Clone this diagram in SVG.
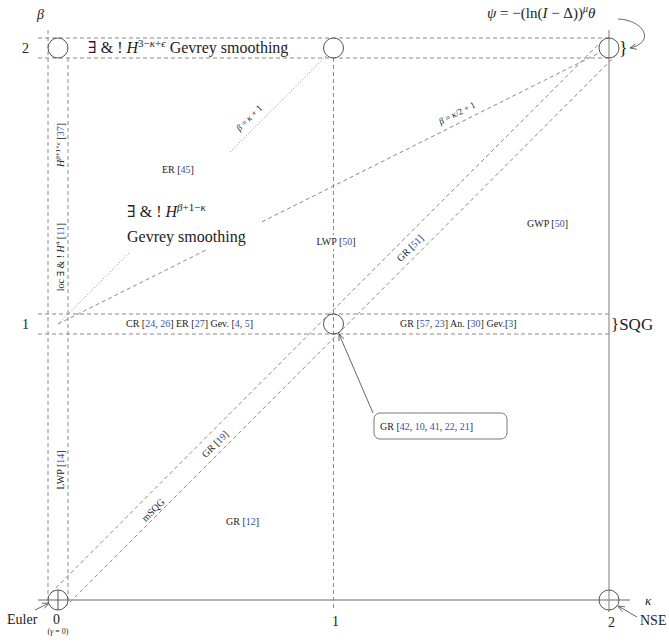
<svg xmlns="http://www.w3.org/2000/svg" width="669" height="643" viewBox="0 0 669 643">
<style>
.bg{fill:#fff}
.ln{fill:none;stroke:#8a8a8a;stroke-width:1}
.dash{stroke-dasharray:4 3}
.dot{stroke-dasharray:1 2.2}
.ax{fill:none;stroke:#9a9a9a;stroke-width:1.3}
.circ{fill:none;stroke:#555;stroke-width:1}
.arr{fill:none;stroke:#666;stroke-width:1}
text{font-family:"Liberation Serif","DejaVu Serif",serif;fill:#222}
.ex{font-family:"DejaVu Serif",serif}
.s{font-size:10px}
.m{font-size:14px}
.b{font-size:16px}
.c{fill:#3550b0}
.i{font-style:italic}
</style>
<defs>
<marker id="ah" viewBox="0 0 10 10" refX="9" refY="5" markerWidth="8" markerHeight="8" orient="auto" markerUnits="userSpaceOnUse">
<path d="M1,1.5 L9,5 L1,8.5" fill="none" stroke="#555" stroke-width="1"/>
</marker>
</defs>
<rect class="bg" x="0" y="0" width="669" height="643"/>

<g id="connectors">
<line class="ax" x1="38" y1="600" x2="630" y2="600"/>
<line class="ax" x1="609" y1="30" x2="609" y2="612"/>
<line class="ln dash" x1="48" y1="30" x2="48" y2="600"/>
<line class="ln dash" x1="68" y1="58" x2="68" y2="600"/>
<line class="ln dash" x1="333.5" y1="58" x2="333.5" y2="608"/>
<line class="ln dash" x1="38" y1="38" x2="609" y2="38"/>
<line class="ln dash" x1="38" y1="58" x2="609" y2="58"/>
<line class="ln dash" x1="38" y1="314" x2="609" y2="314"/>
<line class="ln dash" x1="38" y1="334" x2="609" y2="334"/>
<line class="ln dash" x1="50.9" y1="592.9" x2="601.9" y2="40.9"/>
<line class="ln dash" x1="65.1" y1="607.1" x2="616.1" y2="55.1"/>
<line class="ln dash" x1="58" y1="324" x2="207" y2="249.5"/>
<line class="ln dash" x1="262" y1="221.8" x2="600" y2="52.5"/>
<line class="ln dot" x1="58" y1="324" x2="130" y2="252"/>
<line class="ln dot" x1="230" y1="152" x2="327" y2="55"/>
<line class="arr" x1="373" y1="413" x2="339" y2="334" marker-end="url(#ah)"/>
<line class="arr" x1="35" y1="610" x2="49" y2="603" marker-end="url(#ah)"/>
<line class="arr" x1="637" y1="617" x2="618" y2="606" marker-end="url(#ah)"/>
<path class="arr" d="M618,19 C644,20 656,42 630,48" marker-end="url(#ah)"/>
</g>

<g id="n-top-left"><circle class="circ" cx="58" cy="48" r="10"/></g>
<g id="n-top-mid"><circle class="circ" cx="333.5" cy="48" r="10"/></g>
<g id="n-top-right"><circle class="circ" cx="609" cy="48" r="10"/></g>
<g id="n-sqg"><circle class="circ" cx="333.5" cy="324" r="10"/></g>
<g id="n-euler"><circle class="circ" cx="58" cy="600" r="10"/><line class="circ" x1="58" y1="590" x2="58" y2="610"/></g>
<g id="n-nse"><circle class="circ" cx="609" cy="600" r="10"/></g>

<g id="axis-labels">
<text class="m i" x="37" y="19">β</text>
<text class="m" x="22" y="53">2</text>
<text class="m" x="22" y="329">1</text>
<text class="m" x="53" y="624">0</text>
<text x="58" y="634" font-size="8" text-anchor="middle">(<tspan class="i">γ</tspan> = 0)</text>
<text class="m" x="335.5" y="626" text-anchor="middle">1</text>
<text class="m" x="611.5" y="627" text-anchor="middle">2</text>
<text class="i" x="645" y="605" font-size="13">κ</text>
<text class="m" x="7" y="624">Euler</text>
<text class="m" x="640" y="625">NSE</text>
</g>

<g id="psi-label">
<text x="487" y="18" font-size="15"><tspan class="i">ψ</tspan> = −(ln(<tspan class="i">I</tspan> − Δ))<tspan class="i" font-size="10" dy="-6">μ</tspan><tspan class="i" dy="6">θ</tspan></text>
<text x="619" y="54" font-size="18">}</text>
</g>

<g id="top-row-label">
<text class="b" x="88" y="53"><tspan class="ex">∃</tspan> &amp; ! <tspan class="i">H</tspan><tspan font-size="11" dy="-6">3−<tspan class="i">κ</tspan>+<tspan class="i">ϵ</tspan></tspan><tspan dy="6"> Gevrey smoothing</tspan></text>
</g>

<g id="left-labels">
<text class="s" transform="translate(64,145) rotate(-90)" text-anchor="middle"><tspan class="i">H</tspan><tspan font-size="7" dy="-4"><tspan class="i">β</tspan>+1+<tspan class="i">ϵ</tspan></tspan><tspan dy="4"> [</tspan><tspan class="c">37</tspan>]</text>
<text class="s" transform="translate(64,257) rotate(-90)" text-anchor="middle">loc <tspan class="ex">∃</tspan> &amp; ! <tspan class="i">H</tspan><tspan font-size="7" dy="-4">4</tspan><tspan dy="4"> [</tspan><tspan class="c">11</tspan>]</text>
<text class="s" transform="translate(64,470) rotate(-90)" text-anchor="middle">LWP [<tspan class="c">14</tspan>]</text>
</g>

<g id="region-labels">
<text class="s" x="162" y="173">ER [<tspan class="c">45</tspan>]</text>
<text class="b" x="127" y="217"><tspan class="ex">∃</tspan> &amp; ! <tspan class="i">H</tspan><tspan font-size="11" dy="-6"><tspan class="i">β</tspan>+1−<tspan class="i">κ</tspan></tspan></text>
<text class="b" x="127" y="242">Gevrey smoothing</text>
<rect class="bg" x="313" y="235" width="46" height="14"/>
<text class="s" x="336" y="245" text-anchor="middle">LWP [<tspan class="c">50</tspan>]</text>
<text class="s" x="527" y="227">GWP [<tspan class="c">50</tspan>]</text>
<text class="s" x="226" y="525">GR [<tspan class="c">12</tspan>]</text>
<text class="s" x="126" y="327">CR [<tspan class="c">24</tspan>, <tspan class="c">26</tspan>] ER [<tspan class="c">27</tspan>] Gev. [<tspan class="c">4</tspan>, <tspan class="c">5</tspan>]</text>
<text class="s" x="400" y="327">GR [<tspan class="c">57</tspan>, <tspan class="c">23</tspan>] An. [<tspan class="c">30</tspan>] Gev.[<tspan class="c">3</tspan>]</text>
<text x="611" y="330" font-size="17">}SQG</text>
</g>

<g id="diag-labels">
<text class="s" transform="translate(410,248) rotate(-45)" x="0" y="3.5" text-anchor="middle">GR [<tspan class="c">51</tspan>]</text>
<text class="s" transform="translate(215,444) rotate(-45)" x="0" y="3.5" text-anchor="middle">GR [<tspan class="c">19</tspan>]</text>
<text class="s" transform="translate(153,510) rotate(-45)" x="0" y="3.5" text-anchor="middle">mSQG</text>
<text font-size="9" transform="translate(249,118) rotate(-45)" x="0" y="3" text-anchor="middle"><tspan class="i">β</tspan> = <tspan class="i">κ</tspan> + 1</text>
<text font-size="9" transform="translate(457,113) rotate(-27)" x="0" y="3" text-anchor="middle"><tspan class="i">β</tspan> = <tspan class="i">κ</tspan>/2 + 1</text>
</g>

<g id="callout">
<rect x="374" y="413" width="133" height="26" rx="6" fill="#fff" stroke="#777" stroke-width="1"/>
<text class="s" x="380" y="430">GR [<tspan class="c">42</tspan>, <tspan class="c">10</tspan>, <tspan class="c">41</tspan>, <tspan class="c">22</tspan>, <tspan class="c">21</tspan>]</text>
</g>
</svg>
